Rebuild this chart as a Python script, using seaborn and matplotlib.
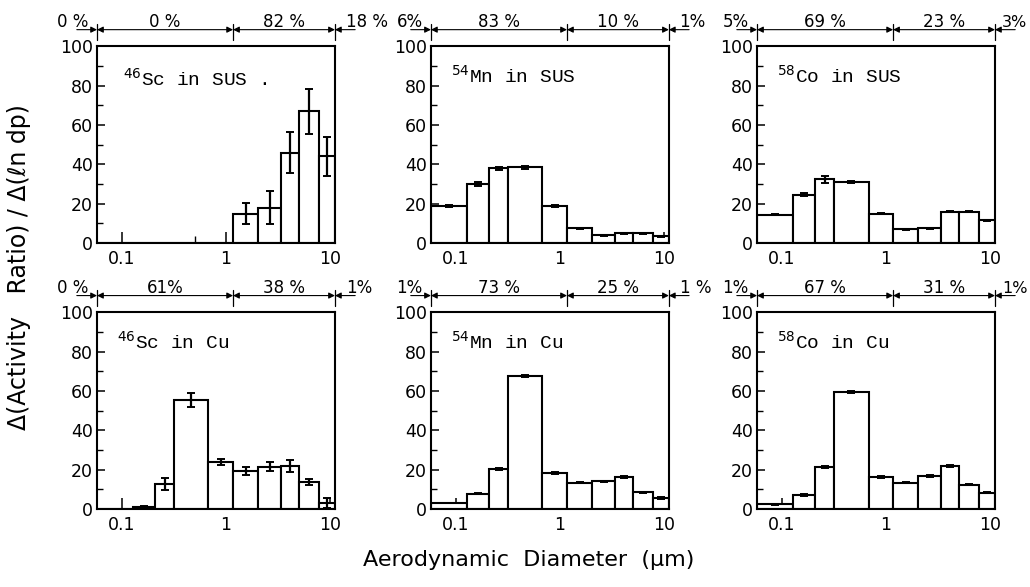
import numpy as np
import pandas as pd
import matplotlib
matplotlib.use("Agg")
import matplotlib.pyplot as plt
from matplotlib.ticker import FixedLocator, MultipleLocator, NullFormatter
import seaborn as sns

# ---- data ----
edges = [0.058, 0.128, 0.21, 0.32, 0.68, 1.17, 2.05, 3.35, 5.05, 7.85, 11.1]

titles = [r"$^{46}$Sc in SUS .", r"$^{54}$Mn in SUS", r"$^{58}$Co in SUS",
          r"$^{46}$Sc in Cu", r"$^{54}$Mn in Cu", r"$^{58}$Co in Cu"]

sc_sus = [0, 0, 0, 0, 0, 15, 18, 46, 67, 44]
sc_sus_err = [0, 0, 0, 0, 0, 5.5, 8.5, 10.5, 11.5, 10]
mn_sus = [19, 30, 38, 38.5, 19, 7.5, 4, 5, 5, 3.5]
mn_sus_err = [0.5, 0.8, 0.8, 0.8, 0.5, 0.3, 0.2, 0.3, 0.3, 0.2]
co_sus = [14.5, 24.5, 32.5, 31, 15, 7, 7.5, 16, 16, 11.5]
co_sus_err = [0.4, 0.7, 1.8, 0.6, 0.4, 0.3, 0.3, 0.4, 0.4, 0.4]
sc_cu = [0, 1, 12.6, 55.5, 24, 19.2, 21.4, 22, 13.5, 3.2]
sc_cu_err = [0, 0.5, 3, 3.5, 1.5, 2, 2.3, 3, 1.5, 2.5]
mn_cu = [3, 7.8, 20.5, 67.5, 18.4, 13.4, 14, 16.2, 8.5, 5.6]
mn_cu_err = [0.2, 0.4, 0.5, 0.6, 0.4, 0.3, 0.3, 0.4, 0.3, 0.3]
co_cu = [2.3, 7, 21.5, 59.5, 16.2, 13.4, 16.8, 21.8, 12.4, 8.2]
co_cu_err = [0.4, 0.4, 0.5, 0.5, 0.4, 0.3, 0.4, 0.4, 0.3, 0.3]

pct_labels = [
    ["0 %", "0 %", "82 %", "18 %"],
    ["6%", "83 %", "10 %", "1%"],
    ["5%", "69 %", "23 %", "3%"],
    ["0 %", "61%", "38 %", "1%"],
    ["1%", "73 %", "25 %", "1 %"],
    ["1%", "67 %", "31 %", "1%"],
]
pct_split = 1.17  # boundary between fine / coarse fractions (um)

values = [sc_sus, mn_sus, co_sus, sc_cu, mn_cu, co_cu]
errors = [sc_sus_err, mn_sus_err, co_sus_err, sc_cu_err, mn_cu_err, co_cu_err]

xticks = [0.1, 1, 10]
xticklabels = ["0.1", "1", "10"]
xminor = [0.5, 5]

# ---- styling ----
sns.set_theme(style="ticks")
plt.rcParams["font.family"] = ["DejaVu Sans"]
plt.rcParams["mathtext.fontset"] = "dejavusans"
plt.rcParams["text.color"] = "black"
plt.rcParams["axes.labelcolor"] = "black"

fig = plt.figure(figsize=(10.3, 5.87), dpi=100)

lefts = [0.0942, 0.4184, 0.7350]
bottoms = [0.586, 0.133]
w, h = 0.231, 0.335

le = np.log10(edges)
centers = 10 ** ((le[:-1] + le[1:]) / 2)
bins_log = [float(v) for v in le]


def frac(v):
    return (np.log10(v) - le[0]) / (le[-1] - le[0])


for i in range(6):
    r, c = divmod(i, 3)
    ax = fig.add_axes([lefts[c], bottoms[r], w, h])
    df = pd.DataFrame({"d": centers, "v": values[i], "e": errors[i]})
    sns.histplot(data=df, x="d", weights="v", bins=bins_log, log_scale=True,
                 stat="count", ax=ax, color="white", edgecolor="black",
                 linewidth=1.5, alpha=1, element="bars", fill=True)
    m = df["v"] > 0
    ax.errorbar(df["d"][m], df["v"][m], yerr=df["e"][m], fmt="none",
                ecolor="black", elinewidth=1.6, capsize=3, capthick=1.4)
    ax.set_xlim(edges[0], edges[-1])
    ax.set_ylim(0, 100)
    ax.set_xlabel("")
    ax.set_ylabel("")
    ax.set_xticks(xticks)
    ax.set_xticklabels(xticklabels)
    ax.xaxis.set_minor_locator(FixedLocator(xminor))
    ax.xaxis.set_minor_formatter(NullFormatter())
    ax.set_yticks(range(0, 101, 20))
    ax.yaxis.set_minor_locator(MultipleLocator(10))
    ax.tick_params(axis="both", which="both", direction="in", colors="black",
                   labelsize=12.5, top=False, right=False)
    ax.tick_params(axis="x", which="major", length=8, width=1.1, pad=5)
    ax.tick_params(axis="x", which="minor", length=5, width=1.0)
    ax.tick_params(axis="y", which="major", length=6, width=1.1, pad=3)
    ax.tick_params(axis="y", which="minor", length=4, width=1.0)
    for s in ax.spines.values():
        s.set_visible(True)
        s.set_color("black")
        s.set_linewidth(1.5)

    ax.text(0.085 if i else 0.11, 0.85 if i else 0.835, titles[i],
            transform=ax.transAxes, fontsize=14, va="center", ha="left",
            family=["Liberation Mono", "DejaVu Sans Mono"])

    # fraction annotation above each panel
    tr = ax.transAxes
    yl = 1.085
    xb = [0.0, frac(pct_split), 1.0]
    for xv in xb:
        ax.plot([xv, xv], [yl - 0.055, yl + 0.03], transform=tr,
                clip_on=False, color="black", lw=0.9)
    akw = dict(lw=0.8, color="black", shrinkA=0, shrinkB=0,
               mutation_scale=9)
    ax.annotate("", xy=(xb[0], yl), xytext=(-0.085, yl), xycoords=tr,
                textcoords=tr, arrowprops=dict(arrowstyle="-|>", **akw))
    ax.annotate("", xy=(xb[2], yl), xytext=(1.085, yl), xycoords=tr,
                textcoords=tr, arrowprops=dict(arrowstyle="-|>", **akw))
    ax.annotate("", xy=(xb[0], yl), xytext=(xb[1], yl), xycoords=tr,
                textcoords=tr, arrowprops=dict(arrowstyle="<|-|>", **akw))
    ax.annotate("", xy=(xb[1], yl), xytext=(xb[2], yl), xycoords=tr,
                textcoords=tr, arrowprops=dict(arrowstyle="<|-|>", **akw))
    pl = pct_labels[i]
    ty = yl + 0.012
    ax.text(-0.035, ty, pl[0], transform=tr, ha="right", va="baseline", fontsize=12)
    ax.text((xb[0] + xb[1]) / 2, ty, pl[1], transform=tr, ha="center", va="baseline", fontsize=12)
    ax.text((xb[1] + xb[2]) / 2, ty, pl[2], transform=tr, ha="center", va="baseline", fontsize=12)
    ax.text(1.03 if c == 2 else 1.045, ty, pl[3], transform=tr, ha="left",
            va="baseline", fontsize=12 if c < 2 else 11.5)

fig.text(0.018, 0.545, "Δ(Activity   Ratio) / Δ(ℓn dp)", rotation=90,
         ha="center", va="center", fontsize=17)
fig.text(0.513, 0.046, "Aerodynamic  Diameter  (μm)", ha="center",
         va="center", fontsize=16)

fig.savefig("out.png", dpi=100)
